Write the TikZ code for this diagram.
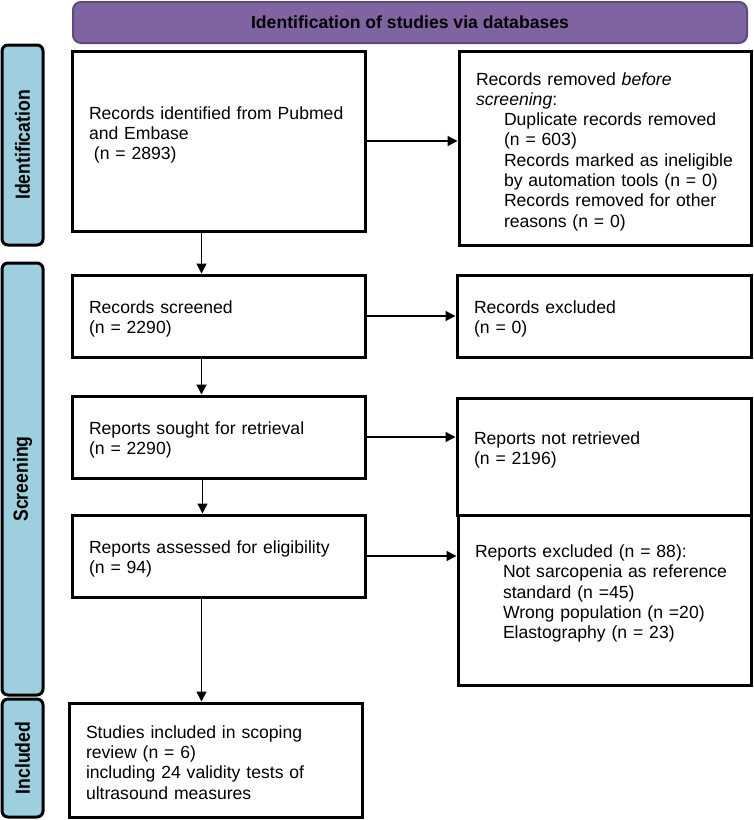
\documentclass[tikz,border=0pt]{standalone}
\usepackage{fontspec}
\setmainfont{Liberation Sans}
\newfontfamily\lblfont{Liberation Sans}[FakeStretch=0.86]
\usetikzlibrary{arrows.meta}
\definecolor{banfill}{RGB}{128,100,162}
\definecolor{bandraw}{RGB}{95,73,122}
\definecolor{lblfill}{RGB}{158,207,223}
\newcommand{\pushup}[1]{\par\kern#1\nointerlineskip\hbox{}}
\newcommand{\ind}{\hspace*{28pt}}
\begin{document}
\begin{tikzpicture}[x=1pt,y=-1pt,
  box/.style={draw=black,line width=3pt,fill=white,inner xsep=17pt,inner ysep=0pt,align=left,
    font=\fontsize{17.6}{20.3}\selectfont},
  lbl/.style={draw=black,line width=3pt,fill=lblfill,rounded corners=6pt,rotate=90,
    minimum height=41pt,inner sep=0pt,font=\lblfont\bfseries\fontsize{20.5}{24}\selectfont},
  banner/.style={draw=bandraw,line width=2pt,fill=banfill,rounded corners=8pt,inner sep=0pt,
    font=\bfseries\fontsize{17.6}{20.3}\selectfont},
  arr/.style={line width=1.3pt,-{Triangle[length=10pt,width=10pt]}}]
\useasboundingbox (0,0) rectangle (754,820);

\node[banner,minimum width=674pt,minimum height=41pt] (ban) at (410,22.5) {Identification of studies via databases};

\node[lbl,minimum width=200pt] (l1) at (22.5,145) {Identification};
\node[lbl,minimum width=432pt] (l2) at (22.5,479) {Screening};
\node[lbl,minimum width=118pt] (l3) at (22.5,758) {Included};

\node[box,minimum width=293pt,minimum height=180pt,text width=259pt] (b1) at (218.5,141)
  {Records identified from Pubmed\\and Embase\\\hspace*{0.278em}(n = 2893)\pushup{12pt}};
\node[box,minimum width=292pt,minimum height=194pt,text width=258pt] (r1) at (605,148)
  {Records removed \textit{before}\\\textit{screening}:\\\ind Duplicate records removed\\\ind (n = 603)\\\ind Records marked as ineligible\\\ind by automation tools (n = 0)\\\ind Records removed for other\\\ind reasons (n = 0)\pushup{-7pt}};

\node[box,minimum width=293pt,minimum height=82pt,text width=259pt] (b2) at (218.5,316)
  {Records screened\\(n = 2290)\pushup{-6pt}};
\node[box,minimum width=294pt,minimum height=82pt,text width=260pt] (r2) at (604,316)
  {Records excluded\\(n = 0)\pushup{-6pt}};

\node[box,minimum width=293pt,minimum height=82pt,text width=259pt] (b3) at (218.5,437)
  {Reports sought for retrieval\\(n = 2290)\pushup{-6pt}};
\node[box,minimum width=294pt,minimum height=117pt,text width=260pt] (r3) at (604,456.5)
  {Reports not retrieved\\(n = 2196)\pushup{13pt}};

\node[box,minimum width=293pt,minimum height=82pt,text width=259pt] (b4) at (218.5,556)
  {Reports assessed for eligibility\\(n = 94)\pushup{-6pt}};
\node[box,minimum width=293pt,minimum height=170pt,text width=259pt] (r4) at (604.5,600)
  {Reports excluded (n = 88):\\\ind Not sarcopenia as reference\\\ind standard (n =45)\\\ind Wrong population (n =20)\\\ind Elastography (n = 23)\pushup{13pt}};

\node[box,minimum width=293pt,minimum height=114pt,text width=259pt] (b5) at (215.5,760)
  {Studies included in scoping\\review (n = 6)\\including 24 validity tests of\\ultrasound measures\pushup{-5pt}};

\draw[arr] (b1.east) -- (b1.east -| r1.west);
\draw[arr] (b2.east) -- (b2.east -| r2.west);
\draw[arr] (b3.east) -- (b3.east -| r3.west);
\draw[arr] (b4.east) -- (b4.east -| r4.west);

\draw[arr] ([xshift=131pt]b1.south west) -- ([xshift=131pt]b2.north west);
\draw[arr] ([xshift=131pt]b2.south west) -- ([xshift=131pt]b3.north west);
\draw[arr] ([xshift=132pt]b3.south west) -- ([xshift=132pt]b4.north west);
\draw[arr] ([xshift=131pt]b4.south west) -- ([xshift=131pt]b4.south west |- b5.north);
\end{tikzpicture}
\end{document}
